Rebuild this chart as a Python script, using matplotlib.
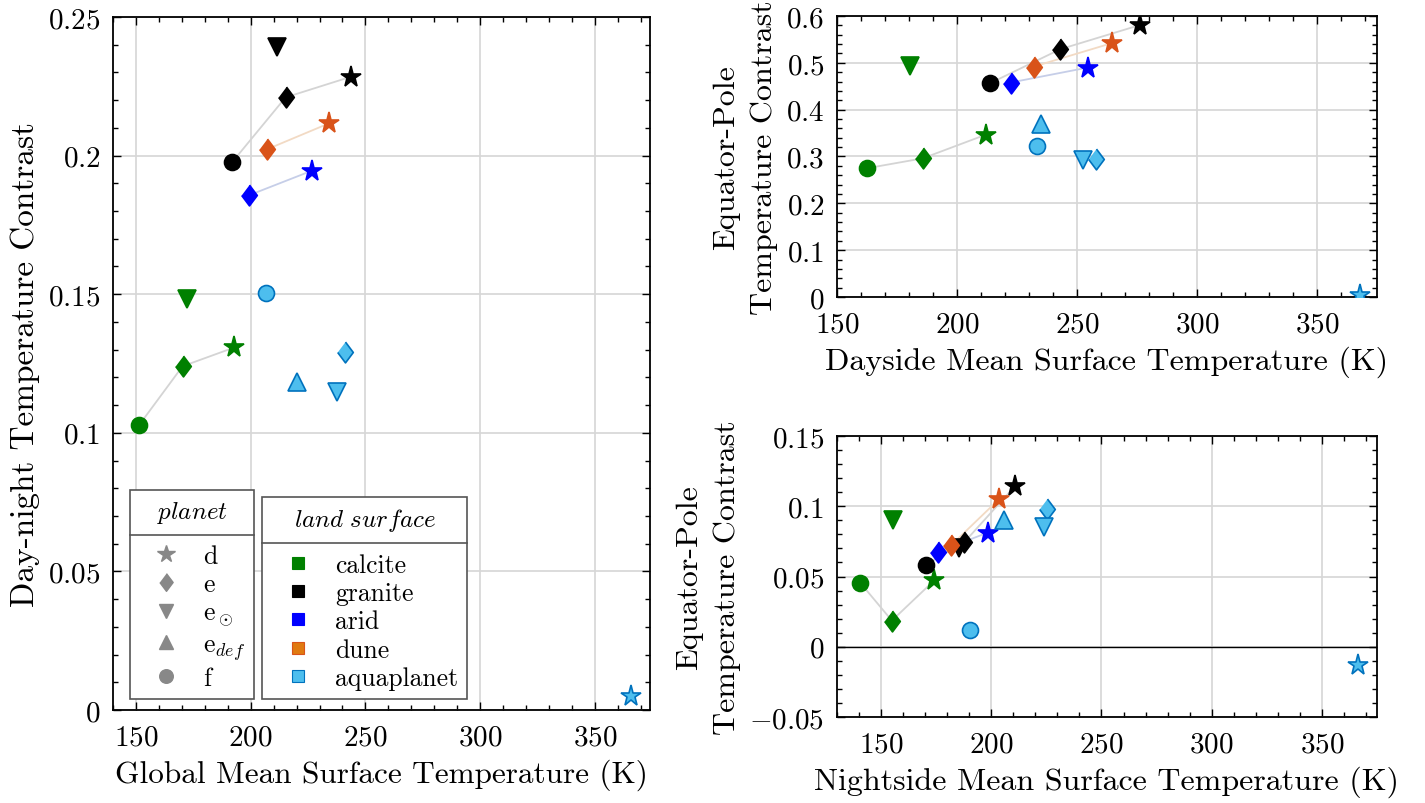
import numpy as np
import matplotlib
matplotlib.use('Agg')
import matplotlib.pyplot as plt
from matplotlib.ticker import MultipleLocator, FuncFormatter
from matplotlib.lines import Line2D

plt.rcParams['font.family'] = 'serif'
plt.rcParams['font.serif'] = ['cmr10']
plt.rcParams['mathtext.fontset'] = 'cm'
plt.rcParams['axes.formatter.use_mathtext'] = True

nan = np.nan

surfaces = ['calcite', 'granite', 'arid', 'dune', 'aquaplanet']
planets = ['d', 'e', r'e$_\odot$', r'e$_{def}$', 'f']

# rows follow surfaces, columns follow planets (d, e, e_sun, e_def, f)
global_T = [[192.9, 170.3, 172.2, nan, 151.4],
            [243.9, 215.2, 211.6, nan, 192.0],
            [226.5, 199.3, nan, nan, nan],
            [234.3, 207.2, nan, nan, nan],
            [365.8, 241.3, 237.7, 220.3, 206.8]]
daynight = [[0.1308, 0.1240, 0.1482, nan, 0.1028],
            [0.2285, 0.2210, 0.2390, nan, 0.1977],
            [0.1945, 0.1857, nan, nan, nan],
            [0.2117, 0.2023, nan, nan, nan],
            [0.0050, 0.1292, 0.1146, 0.1182, 0.1506]]

day_T = [[212.0, 185.7, 180.4, nan, 162.6],
         [276.4, 243.0, nan, nan, 213.6],
         [254.6, 222.4, nan, nan, nan],
         [264.5, 232.0, nan, nan, nan],
         [367.9, 257.9, 252.5, 235.1, 233.5]]
day_eqp = [[0.3466, 0.2960, 0.4936, nan, 0.2750],
           [0.5810, 0.5290, nan, nan, 0.4560],
           [0.4900, 0.4580, nan, nan, nan],
           [0.5420, 0.4920, nan, nan, nan],
           [0.0050, 0.2947, 0.2926, 0.3690, 0.3220]]

night_T = [[174.1, 154.9, 155.4, nan, 140.5],
           [210.7, 187.8, 185.5, nan, 170.2],
           [198.5, 175.9, nan, nan, nan],
           [203.7, 181.9, nan, nan, nan],
           [366.6, 225.5, 223.7, 205.7, 190.4]]
night_eqp = [[0.0472, 0.0186, 0.0903, nan, 0.0456],
             [0.1142, 0.0745, 0.0705, nan, 0.0583],
             [0.0813, 0.0677, nan, nan, nan],
             [0.1053, 0.0724, nan, nan, nan],
             [-0.0132, 0.0983, 0.0853, 0.0900, 0.0120]]

face = ['#008000', 'black', '#0000ff', '#d95319', '#4dbeee']
edge = ['#008000', 'black', '#0000ff', '#d95319', '#0072bd']
line_col = ['#d4d4d4', '#d4d4d4', '#c6cee8', '#f2dac4', None]
legend_col = ['#008000', 'black', '#0000ff', '#e07a10', '#4dbeee']

diamond = [(0, 1), (0.75, 0), (0, -1), (-0.75, 0)]
markers = ['*', diamond, 'v', '^', 'o']
sizes = [15.5, 15, 12.5, 12.5, 11.5]

fig = plt.figure(figsize=(14.25, 8.04), dpi=100)
ax1 = fig.add_axes([113 / 1425, 1 - 711 / 804, 537 / 1425, 693 / 804])
ax2 = fig.add_axes([837 / 1425, 1 - 298 / 804, 540 / 1425, 281 / 804])
ax3 = fig.add_axes([837 / 1425, 1 - 718 / 804, 540 / 1425, 281 / 804])

fmt = FuncFormatter(lambda v, p: '$%g$' % round(v, 4))


def draw(ax, xs, ys):
    for i in range(len(surfaces)):
        if line_col[i] is not None:
            lx = np.array([xs[i][4], xs[i][1], xs[i][0]])
            ly = np.array([ys[i][4], ys[i][1], ys[i][0]])
            ok = np.isfinite(lx) & np.isfinite(ly)
            ax.plot(lx[ok], ly[ok], color=line_col[i], lw=1.3, zorder=2)
        for j in range(len(planets)):
            ax.plot(xs[i][j], ys[i][j], ls='none', marker=markers[j], ms=sizes[j],
                    mfc=face[i], mec=edge[i], mew=1.2, zorder=3)


def style(ax, xlim, ylim, ymaj, ymin):
    ax.set_xlim(xlim)
    ax.set_ylim(ylim)
    ax.xaxis.set_major_locator(MultipleLocator(50))
    ax.xaxis.set_minor_locator(MultipleLocator(10))
    ax.yaxis.set_major_locator(MultipleLocator(ymaj))
    ax.yaxis.set_minor_locator(MultipleLocator(ymin))
    ax.xaxis.set_major_formatter(fmt)
    ax.yaxis.set_major_formatter(fmt)
    ax.grid(True, which='major', color='#d6d6d6', lw=1.2)
    ax.set_axisbelow(True)
    ax.tick_params(which='both', direction='in', top=True, right=True,
                   labelsize=21, width=1.0)
    ax.tick_params(which='major', length=6)
    ax.tick_params(which='minor', length=3.5)
    ax.tick_params(axis='x', which='major', pad=10)
    ax.tick_params(axis='y', which='major', pad=9)
    for sp in ax.spines.values():
        sp.set_linewidth(1.3)


draw(ax1, global_T, daynight)
style(ax1, (140, 374), (0, 0.25), 0.05, 0.01)
ax1.set_xlabel('Global Mean Surface Temperature (K)', fontsize=22.5, labelpad=6)
ax1.set_ylabel('Day-night Temperature Contrast', fontsize=24, labelpad=6)

draw(ax2, day_T, day_eqp)
style(ax2, (150, 375), (0, 0.6), 0.1, 0.02)
ax2.set_xlabel('Dayside Mean Surface Temperature (K)', fontsize=23, labelpad=6)
ax2.set_ylabel('Equator-Pole\nTemperature Contrast', fontsize=23, linespacing=1.5,
               labelpad=6)

draw(ax3, night_T, night_eqp)
style(ax3, (130, 375), (-0.05, 0.15), 0.05, 0.01)
ax3.axhline(0, color='black', lw=1.0, zorder=2)
ax3.set_xlabel('Nightside Mean Surface Temperature (K)', fontsize=23, labelpad=6)
ax3.set_ylabel('Equator-Pole\nTemperature Contrast', fontsize=23, linespacing=1.5,
               labelpad=6)

# legends
ph = [Line2D([], [], ls='none', marker=markers[j], ms=sizes[j] * 0.85,
             mfc='#888888', mec='#888888') for j in range(len(planets))]
sh = [Line2D([], [], ls='none', marker='s', ms=8, mfc=legend_col[i],
             mec=edge[i], mew=0.8) for i in range(len(surfaces))]
common = dict(loc='lower left', frameon=True, fancybox=False, edgecolor='#555555',
              framealpha=1, fontsize=18.5, title_fontsize=18, handlelength=2.1,
              handletextpad=0.4, labelspacing=0.18, borderpad=0.35, borderaxespad=0)
leg1 = ax1.legend(ph, planets, title=r'$\mathit{planet}$',
                  bbox_to_anchor=(17 / 537, 11 / 693), **common)
ax1.add_artist(leg1)
leg2 = ax1.legend(sh, surfaces, title=r'$\mathit{land\ surface}$',
                  bbox_to_anchor=(149 / 537, 11 / 693), **common)
for leg in (leg1, leg2):
    leg.get_frame().set_linewidth(1.2)
    leg._legend_box.sep = 14

fig.canvas.draw()
inv = fig.transFigure.inverted()
for leg in (leg1, leg2):
    fb = leg.get_frame().get_window_extent()
    tb = leg.get_title().get_window_extent()
    y = tb.y0 - 10
    p0 = inv.transform((fb.x0, y))
    p1 = inv.transform((fb.x1, y))
    fig.add_artist(Line2D([p0[0], p1[0]], [p0[1], p1[1]], color='#555555', lw=1.2,
                          transform=fig.transFigure))

fig.savefig('out.png', dpi=100, facecolor='white')
